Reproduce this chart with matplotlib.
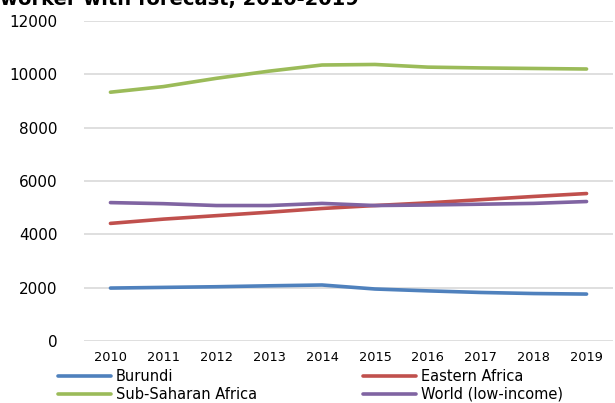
import numpy as np
import matplotlib.pyplot as plt

plt.rcParams['font.family'] = ['DejaVu Sans']

years = [2010, 2011, 2012, 2013, 2014, 2015, 2016, 2017, 2018, 2019]
burundi = [1985, 2010, 2035, 2070, 2100, 1950, 1880, 1820, 1780, 1760]
eastern_africa = [4410, 4570, 4700, 4830, 4970, 5080, 5180, 5300, 5420, 5530]
sub_saharan = [9330, 9540, 9850, 10120, 10350, 10370, 10270, 10240, 10220, 10200]
world_low = [5190, 5150, 5080, 5080, 5160, 5080, 5100, 5130, 5160, 5230]

colors = {
    'Burundi': '#4F81BD',
    'Eastern Africa': '#C0504D',
    'Sub-Saharan Africa': '#9BBB59',
    'World (low-income)': '#8064A2',
}

fig = plt.figure(figsize=(6.15, 4.03), dpi=100)
ax = fig.add_axes([84 / 615, 1 - 341 / 403, 529 / 615, 320 / 403])

x = np.arange(len(years))
lines = {}
for name, vals in [('Burundi', burundi), ('Eastern Africa', eastern_africa),
                   ('Sub-Saharan Africa', sub_saharan), ('World (low-income)', world_low)]:
    lines[name], = ax.plot(x, vals, color=colors[name], lw=2.6,
                           solid_capstyle='round', label=name)

ax.set_xlim(-0.5, len(years) - 0.5)
ax.set_ylim(0, 12000)
ax.set_yticks(range(0, 12001, 2000))
ax.set_xticks(x)
ax.set_xticklabels([str(y) for y in years])
ax.grid(axis='y', color='#d9d9d9', lw=1.2)
ax.set_axisbelow(True)
for s in ax.spines.values():
    s.set_visible(False)
ax.tick_params(length=0)
ax.tick_params(axis='y', labelsize=11, pad=19)
ax.tick_params(axis='x', labelsize=9.3, pad=7)

order = ['Burundi', 'Sub-Saharan Africa', 'Eastern Africa', 'World (low-income)']
fig.legend([lines[n] for n in order], order, ncol=2, frameon=False,
           loc='upper left', bbox_to_anchor=(58 / 615, 1 - 369 / 403),
           fontsize=10.5, handlelength=3.6, handletextpad=0.36,
           columnspacing=7.3, labelspacing=0.2, borderaxespad=0,
           borderpad=0)

fig.text(0.0, 1 - 5 / 403, 'worker with forecast, 2010-2019',
         fontsize=14, fontweight='bold', ha='left', va='baseline')

fig.savefig('out.png', dpi=100)
